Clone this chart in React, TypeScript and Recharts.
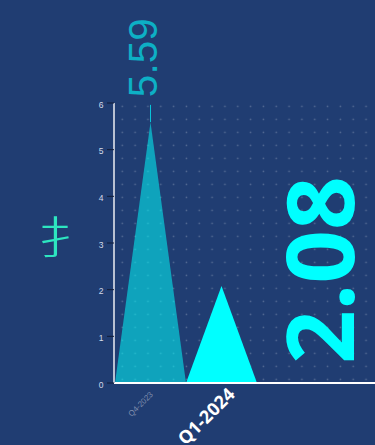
import React from 'react';
import { BarChart, Bar, XAxis, YAxis, CartesianGrid, ErrorBar, LabelList, Label } from 'recharts';

// Quarterly values and the thin stem above each peak
const quarters = ['Q4-2023', 'Q1-2024'];
const values = [5.59, 2.08];
const stemRise = [0.37, 0];
const yTicks = [0, 1, 2, 3, 4, 5, 6];
const yTitle = '扌';

const rows = quarters.map((quarter, i) => ({
  quarter,
  value: values[i],
  stem: [0, stemRise[i]],
}));

const BG = '#203d72';
const CYAN = '#00ffff';
const SANS = '"Liberation Sans", Arial, sans-serif';
const ROUND = '"Noto Sans", sans-serif';

const markOpacity = [0.53, 1];
const tickStyles = [
  { fontFamily: SANS, fontSize: 8, fontWeight: 400, fill: '#7d8cab', dx: 3, dy: 4 },
  { fontFamily: ROUND, fontSize: 18, fontWeight: 700, fill: '#ffffff', dx: 14.5, dy: 4.5 },
];
const labelStyles = [
  { fontFamily: SANS, fontSize: 40.5, fontWeight: 400, dx: 7, dy: -25, opacity: 0.6 },
  { fontFamily: ROUND, fontSize: 94, fontWeight: 700, dx: 133, dy: 78, opacity: 1 },
];

// Triangular column whose apex sits on the value and whose base spans the band
function Peak(props: any) {
  const { x, y, width, height, index } = props;
  const d = `M${x},${y + height} L${x + width / 2},${y} L${x + width},${y + height} Z`;
  return <path d={d} fill={CYAN} fillOpacity={markOpacity[index]} />;
}

function QuarterTick(props: any) {
  const { x, y, payload, index } = props;
  const s = tickStyles[index];
  const px = x + s.dx;
  const py = y + s.dy;
  return (
    <text
      x={px}
      y={py}
      textAnchor="end"
      fontFamily={s.fontFamily}
      fontSize={s.fontSize}
      fontWeight={s.fontWeight}
      fill={s.fill}
      transform={`rotate(-45 ${px} ${py})`}
    >
      {payload.value}
    </text>
  );
}

function ValueTick(props: any) {
  const { x, y, payload } = props;
  return (
    <g>
      <line x1={x + 1} x2={x + 8} y1={y} y2={y} stroke="#101c38" strokeWidth={1} />
      <text x={x - 5} y={y + 4.5} textAnchor="middle" fontFamily={SANS} fontSize={8.5} fill="#d5dbe8">
        {payload.value}
      </text>
    </g>
  );
}

function PeakLabel(props: any) {
  const { x, y, width, value, index } = props;
  const s = labelStyles[index];
  const px = x + width / 2 + s.dx;
  const py = y + s.dy;
  return (
    <text
      x={px}
      y={py}
      fontFamily={s.fontFamily}
      fontSize={s.fontSize}
      fontWeight={s.fontWeight}
      fill={CYAN}
      fillOpacity={s.opacity}
      transform={`rotate(-90 ${px} ${py})`}
    >
      {value}
    </text>
  );
}

function AxisTitle() {
  return (
    <text
      textAnchor="middle"
      fontFamily='"Noto Sans CJK SC"'
      fontWeight={300}
      fontSize={44}
      fill="#2de6c0"
      transform="translate(69 254) scale(1.45 1)"
    >
      {yTitle}
    </text>
  );
}

export default function App() {
  return (
    <div style={{ position: 'fixed', left: 0, top: 0, width: 375, height: 445, background: BG }}>
      <BarChart
        width={375}
        height={445}
        data={rows}
        margin={{ top: 103, right: 0, bottom: 0, left: 0 }}
        barCategoryGap={0}
      >
        <defs>
          <pattern id="dots" patternUnits="userSpaceOnUse" x={115.9} y={99.8} width={12.83} height={13}>
            <circle cx={6.4} cy={6.5} r={0.85} fill="#ffffff" fillOpacity={0.26} />
          </pattern>
        </defs>
        <CartesianGrid horizontal={false} vertical={false} fill="url(#dots)" />
        <XAxis
          dataKey="quarter"
          height={62}
          interval={0}
          padding={{ left: 1, right: 118 }}
          axisLine={{ stroke: '#ffffff', strokeWidth: 2 }}
          tickLine={false}
          tick={<QuarterTick />}
        />
        <YAxis
          width={114}
          domain={[0, 6]}
          ticks={yTicks}
          interval={0}
          axisLine={{ stroke: '#b9c1d2', strokeWidth: 2 }}
          tickLine={false}
          tick={<ValueTick />}
        >
          <Label content={<AxisTitle />} />
        </YAxis>
        <Bar dataKey="value" isAnimationActive={false} shape={<Peak />} fill={CYAN}>
          <ErrorBar dataKey="stem" width={0} stroke="#08c4d8" strokeWidth={1} isAnimationActive={false} />
          <LabelList dataKey="value" content={<PeakLabel />} />
        </Bar>
      </BarChart>
    </div>
  );
}
